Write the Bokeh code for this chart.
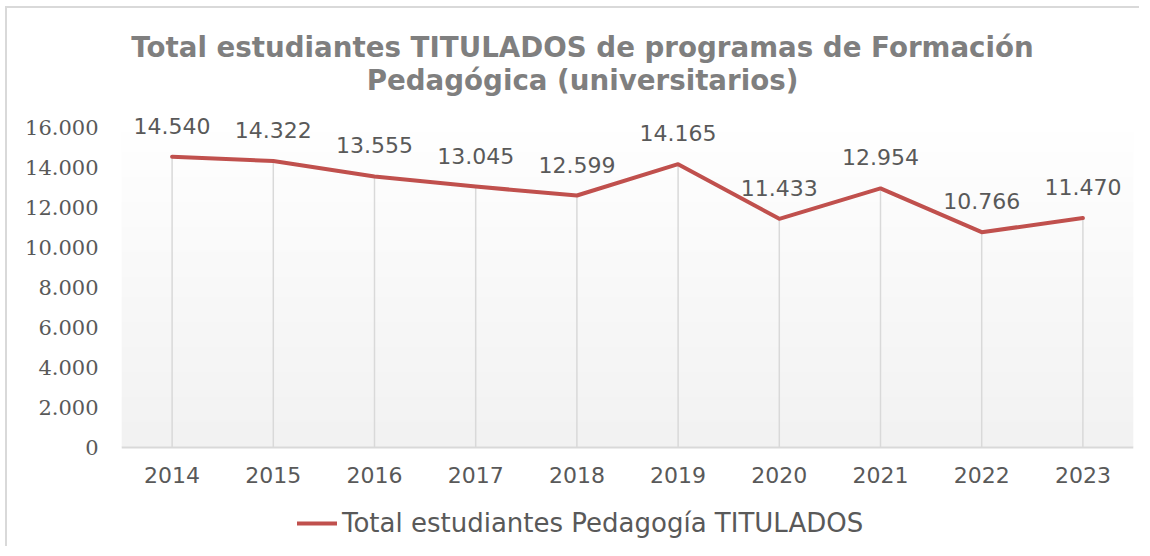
import numpy as np
from bokeh.plotting import figure
from bokeh.models import (ColumnDataSource, FactorRange, Range1d, FixedTicker,
                          LabelSet, Label, Legend, LegendItem, Span)
from bokeh.core.properties import value
from bokeh.embed import file_html
from bokeh.resources import INLINE

years = ["2014", "2015", "2016", "2017", "2018", "2019", "2020", "2021", "2022", "2023"]
titulados = [14540, 14322, 13555, 13045, 12599, 14165, 11433, 12954, 10766, 11470]
y_ticks = [0, 2000, 4000, 6000, 8000, 10000, 12000, 14000, 16000]
series_name = "Total estudiantes Pedagogía TITULADOS"
title_lines = ["Total estudiantes TITULADOS de programas de Formación",
               "Pedagógica (universitarios)"]

def fmt(v):
    return f"{v:,}".replace(",", ".")

src = ColumnDataSource(dict(
    year=years,
    value=titulados,
    zero=[0] * len(years),
    label=[fmt(v) for v in titulados],
))

AXIS_MAX = y_ticks[-1]
UNITS_PER_PX = AXIS_MAX / 320.0
# frame spans whole canvas height (530 px): 429 px above zero, 101 px below
p = figure(width=1134, height=540, x_range=FactorRange(*years, range_padding=0),
           y_range=Range1d(-101 * UNITS_PER_PX, 429 * UNITS_PER_PX),
           output_backend="svg", toolbar_location=None,
           min_border_left=114, min_border_right=8, min_border_top=10,
           min_border_bottom=0)
p.styles = {"margin-left": "5px", "margin-top": "6px",
            "border-top": "2px solid #d9d9d9", "border-left": "2px solid #d9d9d9"}
p.outline_line_color = None
p.background_fill_color = "white"
p.border_fill_color = "white"

# gradient background of the plot area (0 .. top tick)
n = 64
g = np.linspace(0xf2, 0xff, n).astype(np.uint32)
img = np.empty((n, 1), dtype=np.uint32)
img[:, 0] = (0xff << 24) | (g << 16) | (g << 8) | g
p.image_rgba(image=[img], x=0, y=0, dw=len(years), dh=AXIS_MAX)

p.xgrid.grid_line_color = None
p.ygrid.grid_line_color = None

# horizontal axis line at zero
p.add_layout(Span(location=0, dimension="width", line_color="#d9d9d9", line_width=2))

# drop lines
p.segment(x0="year", y0="zero", x1="year", y1="value", source=src,
          line_color="#d9d9d9", line_width=1.5)

line = p.line(x="year", y="value", source=src, line_color="#c0504d", line_width=4,
              line_join="round", line_cap="round")

labels = LabelSet(x="year", y="value", text="label", source=src, y_offset=31,
                  text_align="center", text_baseline="middle",
                  text_font=value("DejaVu Sans"), text_font_size=value("22px"),
                  text_color=value("#595959"))
p.add_layout(labels)

# axes
p.yaxis.ticker = FixedTicker(ticks=y_ticks)
p.yaxis.major_label_overrides = {t: fmt(t) for t in y_ticks}
p.yaxis.axis_line_color = None
p.yaxis.major_tick_line_color = None
p.yaxis.minor_tick_line_color = None
p.yaxis.major_label_standoff = 17
p.yaxis.major_label_text_font = "DejaVu Serif"
p.yaxis.major_label_text_font_size = "21px"
p.yaxis.major_label_text_color = "#595959"

p.xaxis.axis_line_color = None
p.xaxis.major_tick_line_color = None
p.xaxis.minor_tick_line_color = None
p.xaxis.major_label_standoff = -88
p.xaxis.major_label_text_font = "DejaVu Sans"
p.xaxis.major_label_text_font_size = "22px"
p.xaxis.major_label_text_color = "#595959"

# title (screen units from frame bottom)
for txt, yy in zip(title_lines, [501, 468]):
    p.add_layout(Label(x=461, y=yy, x_units="screen", y_units="screen", text=txt,
                       text_align="center", text_baseline="middle",
                       text_font="DejaVu Sans", text_font_style="bold",
                       text_font_size="27.7px", text_color="#7f7f7f"))

legend = Legend(items=[LegendItem(label=series_name, renderers=[line])],
                location=(176, 10), border_line_color=None, background_fill_alpha=0,
                padding=0, margin=0, glyph_width=40, glyph_height=28, label_height=28,
                label_standoff=5, label_text_font="DejaVu Sans",
                label_text_font_size="26px", label_text_color="#595959")
p.add_layout(legend, "center")

open("out.html", "w").write(file_html(p, INLINE))
